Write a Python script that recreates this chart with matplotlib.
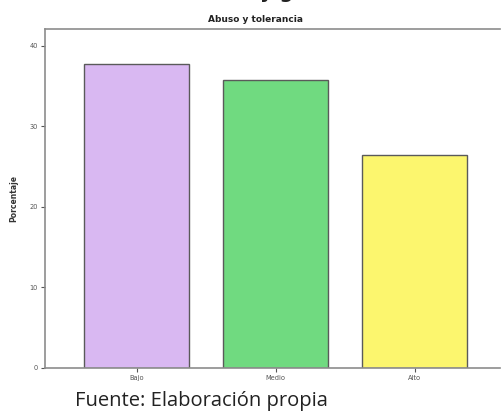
import matplotlib
matplotlib.use('Agg')
import matplotlib.pyplot as plt

# data
categorias = ['Bajo', 'Medio', 'Alto']
porcentajes = [37.7, 35.8, 26.5]
colores = ['#d9b8f2', '#70da80', '#fcf66e']

fig = plt.figure(figsize=(5.01, 4.17), dpi=100)
W, H = 501.0, 417.0
ax = fig.add_axes([45/W, 1 - 368/H, 455/W, (368 - 29)/H])

x = range(len(categorias))
ax.bar(x, porcentajes, width=0.755, color=colores, edgecolor='#5a5a5a', linewidth=1.0)

ax.set_xlim(-0.66, 2.615)
ax.set_ylim(0, 42.1)
ax.set_yticks([0, 10, 20, 30, 40])
ax.set_xticks(list(x))
ax.set_xticklabels(categorias)

for s in ['left', 'bottom', 'top']:
    ax.spines[s].set_color('#8c8c8c')
    ax.spines[s].set_linewidth(1.2)
ax.spines['right'].set_visible(False)
ax.tick_params(axis='both', labelsize=4.8, colors='#555555', length=3, width=0.8, pad=2)
ax.set_ylabel('Porcentaje', fontsize=5.5, fontweight='bold', color='#333333', labelpad=8)

fig.text(255/W, 1 - 19/H, 'Abuso y tolerancia', ha='center', va='center',
         fontsize=6.5, fontweight='bold', color='#222222')

# piece of the heading cut off at the top
fig.text(277/W, 1 + 2/H, 'y g', ha='center', va='baseline',
         fontsize=14, fontweight='bold', color='#222222')

fig.text(75/W, 1 - 401/H, 'Fuente: Elaboración propia', ha='left', va='center',
         fontsize=14.5, color='#222222', family='Open Sans')

fig.savefig('out.png', dpi=100)
